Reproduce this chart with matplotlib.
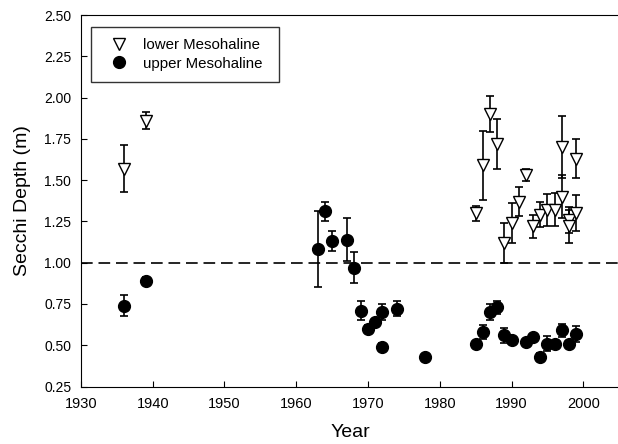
import matplotlib.pyplot as plt

plt.rcParams['font.family'] = ['Liberation Sans', 'DejaVu Sans']

# lower Mesohaline (open triangles)
low_year = [1936, 1939, 1985, 1986, 1987, 1988, 1989, 1990, 1991, 1992, 1993,
            1994, 1995, 1996, 1997, 1997, 1998, 1998, 1999, 1999]
low_depth = [1.57, 1.86, 1.30, 1.59, 1.90, 1.72, 1.12, 1.24, 1.37, 1.53, 1.22,
             1.29, 1.32, 1.32, 1.70, 1.40, 1.26, 1.22, 1.63, 1.30]
low_err = [0.14, 0.05, 0.045, 0.21, 0.11, 0.15, 0.12, 0.12, 0.09, 0.035, 0.07,
           0.075, 0.095, 0.10, 0.19, 0.13, 0.08, 0.10, 0.12, 0.11]

# upper Mesohaline (filled circles)
up_year = [1936, 1939, 1963, 1964, 1965, 1967, 1968, 1969, 1970, 1971, 1972,
           1972, 1974, 1978, 1985, 1986, 1987, 1988, 1989, 1990, 1992, 1993,
           1994, 1995, 1996, 1997, 1998, 1999]
up_depth = [0.74, 0.89, 1.08, 1.31, 1.13, 1.14, 0.97, 0.71, 0.60, 0.64, 0.70,
            0.49, 0.72, 0.43, 0.51, 0.58, 0.70, 0.73, 0.56, 0.53, 0.52, 0.55,
            0.43, 0.51, 0.51, 0.59, 0.51, 0.57]
up_err = [0.065, 0.025, 0.23, 0.055, 0.06, 0.13, 0.095, 0.055, 0.02, 0.02, 0.048,
          0.025, 0.045, 0.01, 0.01, 0.04, 0.05, 0.04, 0.045, 0.02, 0.01, 0.01,
          0.02, 0.048, 0.01, 0.04, 0.015, 0.048]

fig = plt.figure(figsize=(6.18, 4.44), dpi=100)
ax = fig.add_axes([0.131, 0.1295, 0.871, 0.8367])

ax.axhline(1.0, color='black', linestyle=(0, (7, 3.5)), linewidth=1.2, zorder=1)

# error bars first, then the markers on top
ax.errorbar(low_year, low_depth, yerr=low_err, fmt='none', ecolor='black',
            elinewidth=1.2, capsize=3, capthick=1.2, zorder=2)
ax.errorbar(up_year, up_depth, yerr=up_err, fmt='none', ecolor='black',
            elinewidth=1.2, capsize=3, capthick=1.2, zorder=2)
ax.plot(low_year, low_depth, 'v', markerfacecolor='white', markeredgecolor='black',
        markersize=8, markeredgewidth=1.0, label='lower Mesohaline', zorder=3)
ax.plot(up_year, up_depth, 'o', color='black', markersize=8.5,
        label='upper Mesohaline', zorder=3)

ax.set_xlim(1930, 2005)
ax.set_ylim(0.25, 2.50)
ax.set_xticks([1930, 1940, 1950, 1960, 1970, 1980, 1990, 2000])
ax.set_yticks([0.25, 0.50, 0.75, 1.00, 1.25, 1.50, 1.75, 2.00, 2.25, 2.50])
ax.set_yticklabels(['%.2f' % v for v in ax.get_yticks()])
ax.tick_params(direction='in', length=4, top=False, right=False)
ax.tick_params(axis='x', labelsize=10.5, pad=7.5)
ax.tick_params(axis='y', labelsize=10, pad=7)
ax.spines['right'].set_visible(False)

ax.set_xlabel('Year', fontsize=14)
ax.set_ylabel('Secchi Depth (m)', fontsize=14)
ax.xaxis.set_label_coords(0.5, -0.1)
ax.yaxis.set_label_coords(-0.092, 0.5)

leg = ax.legend(loc='upper left', bbox_to_anchor=(0.0186, 0.82, 0.349, 0.148),
                mode='expand', borderaxespad=0, fontsize=10.8, frameon=True,
                fancybox=False, edgecolor='black', borderpad=0.77,
                labelspacing=0.28, handlelength=2.2, handletextpad=0.5)
leg.get_frame().set_linewidth(1.0)

fig.savefig('out.png', dpi=100)
